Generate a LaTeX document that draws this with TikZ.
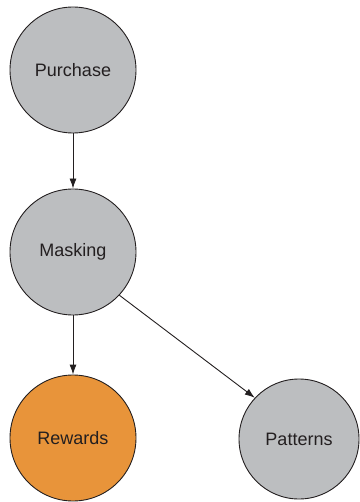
\documentclass[tikz,border=0pt]{standalone}
\usepackage{fontspec}
\setmainfont{Liberation Sans}
\usetikzlibrary{arrows.meta}
\definecolor{nodegray}{HTML}{BCBEC0}
\definecolor{nodeorange}{HTML}{E8943A}
\definecolor{ink}{HTML}{231F20}
\begin{document}
\begin{tikzpicture}[x=1pt,y=-1pt,
  stage/.style={circle,draw=ink,line width=0.9pt,fill=nodegray,minimum size=126pt,inner sep=0pt,
    font=\fontsize{18}{20}\selectfont,text=ink},
  flow/.style={draw=ink,line width=0.9pt,-{Latex[length=10pt,width=7pt]}}]
  \useasboundingbox (0,0) rectangle (359,502);
  \node[stage] (purchase) at (73,70) {Purchase};
  \node[stage] (masking) at (73,252) {Masking};
  \node[stage,fill=nodeorange] (rewards) at (73,438) {Rewards};
  \node[stage,minimum size=120pt] (patterns) at (299,439) {Patterns};
  \draw[flow] (purchase) -- (masking);
  \draw[flow] (masking) -- (rewards);
  \draw[flow] (masking.-43) -- (patterns.137);
\end{tikzpicture}
\end{document}
